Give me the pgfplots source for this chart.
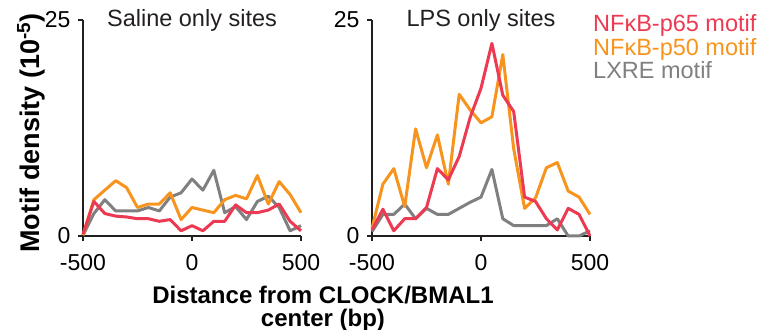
\documentclass[border=0pt]{standalone}
\usepackage{pgfplots}
\pgfplotsset{compat=1.18}
\usepackage{fontspec}
\setmainfont{Liberation Sans}
\definecolor{p65}{HTML}{EC3A52}
\definecolor{p50}{HTML}{F7941D}
\definecolor{lxre}{HTML}{808080}
\definecolor{axc}{HTML}{231F20}
\pgfplotsset{
  panel/.style={
    scale only axis, width=218bp, height=216bp,
    xmin=-500, xmax=500, ymin=0, ymax=25,
    axis x line*=bottom, axis y line*=left,
    axis line style={line width=2bp, color=axc},
    xtick={-500,0,500}, xticklabels={-500,0,500},
    ytick={0,25}, yticklabels={0,25},
    tick align=outside, major tick length=5bp,
    every tick/.style={line width=2bp, color=axc},
    tick label style={font=\fontsize{23bp}{26bp}\selectfont, text=black},
    xticklabel style={yshift=-10bp},
    yticklabel style={xshift=-4bp},
    clip=false,
    title style={at={(0.5,1)}, anchor=base, yshift=-12bp, font=\fontsize{23.5bp}{26bp}\selectfont, text=axc},
    every axis plot/.append style={line width=3bp, line join=round, mark=none},
  }
}
\begin{document}
\begin{tikzpicture}
\path[use as bounding box] (0,0) rectangle (763bp,330bp);
\begin{axis}[panel, at={(83bp,94bp)}, anchor=south west, title={Saline only sites}]
\addplot[lxre] coordinates {(-500,0.1)(-450,2.6)(-400,4.2)(-350,2.9)(-300,2.9)(-250,2.9)(-200,3.3)(-150,2.9)(-100,4.5)(-50,5.0)(0,6.6)(50,5.3)(100,7.6)(150,2.7)(200,3.4)(250,1.9)(300,4.0)(350,4.6)(400,3.3)(450,0.6)(500,1.2)};
\addplot[p50] coordinates {(-500,0.1)(-450,4.2)(-400,5.3)(-350,6.4)(-300,5.6)(-250,3.3)(-200,3.7)(-150,3.7)(-100,5.0)(-50,1.9)(0,3.3)(50,3.0)(100,2.7)(150,4.2)(200,4.7)(250,4.3)(300,7.0)(350,3.7)(400,6.3)(450,4.8)(500,2.7)};
\addplot[p65] coordinates {(-500,0.2)(-450,4.0)(-400,2.6)(-350,2.3)(-300,2.2)(-250,2.0)(-200,2.0)(-150,1.7)(-100,1.9)(-50,0.6)(0,1.2)(50,0.6)(100,1.7)(150,1.7)(200,3.6)(250,2.7)(300,2.7)(350,3.0)(400,3.7)(450,1.7)(500,0.6)};
\end{axis}
\begin{axis}[panel, at={(372bp,94bp)}, anchor=south west, title={LPS only sites}]
\addplot[lxre] coordinates {(-500,0.5)(-450,2.5)(-400,2.5)(-350,3.7)(-300,2.0)(-250,3.2)(-200,2.5)(-150,2.5)(-100,3.2)(-50,3.9)(0,4.5)(50,7.7)(100,2.0)(150,1.2)(200,1.2)(250,1.2)(300,1.2)(350,2.0)(400,0)(450,0)(500,0.6)};
\addplot[p50] coordinates {(-500,0.9)(-450,6.0)(-400,7.8)(-350,3.4)(-300,12.4)(-250,7.9)(-200,11.7)(-150,6.0)(-100,16.4)(-50,14.6)(0,13.1)(50,13.8)(100,21.0)(150,10.1)(200,3.2)(250,4.4)(300,7.9)(350,8.5)(400,5.2)(450,4.5)(500,2.5)};
\addplot[p65] coordinates {(-500,0.7)(-450,3.1)(-400,0.6)(-350,2.0)(-300,2.0)(-250,3.3)(-200,7.8)(-150,6.5)(-100,9.2)(-50,13.7)(0,17.1)(50,22.3)(100,16.3)(150,14.4)(200,4.5)(250,4.0)(300,2.0)(350,0.7)(400,3.2)(450,2.5)(500,0)};
\end{axis}
\begin{scope}[every node/.style={font=\fontsize{23.5bp}{26bp}\selectfont, anchor=base west, inner sep=0pt}]
\node[text=p65] at (593bp,298.3bp) {NFκB-p65 motif};
\node[text=p50] at (593bp,274bp) {NFκB-p50 motif};
\node[text=lxre] at (593bp,251bp) {LXRE motif};
\end{scope}
\begin{scope}[every node/.style={font=\fontsize{24bp}{26bp}\selectfont\bfseries, anchor=base, inner sep=0pt}]
\node at (323bp,27bp) {Distance from CLOCK/BMAL1};
\node at (323bp,4bp) {center (bp)};
\node[rotate=90, font=\fontsize{27bp}{30bp}\selectfont\bfseries] at (39bp,197bp) {Motif density (10\textsuperscript{-5})};
\end{scope}
\end{tikzpicture}
\end{document}
